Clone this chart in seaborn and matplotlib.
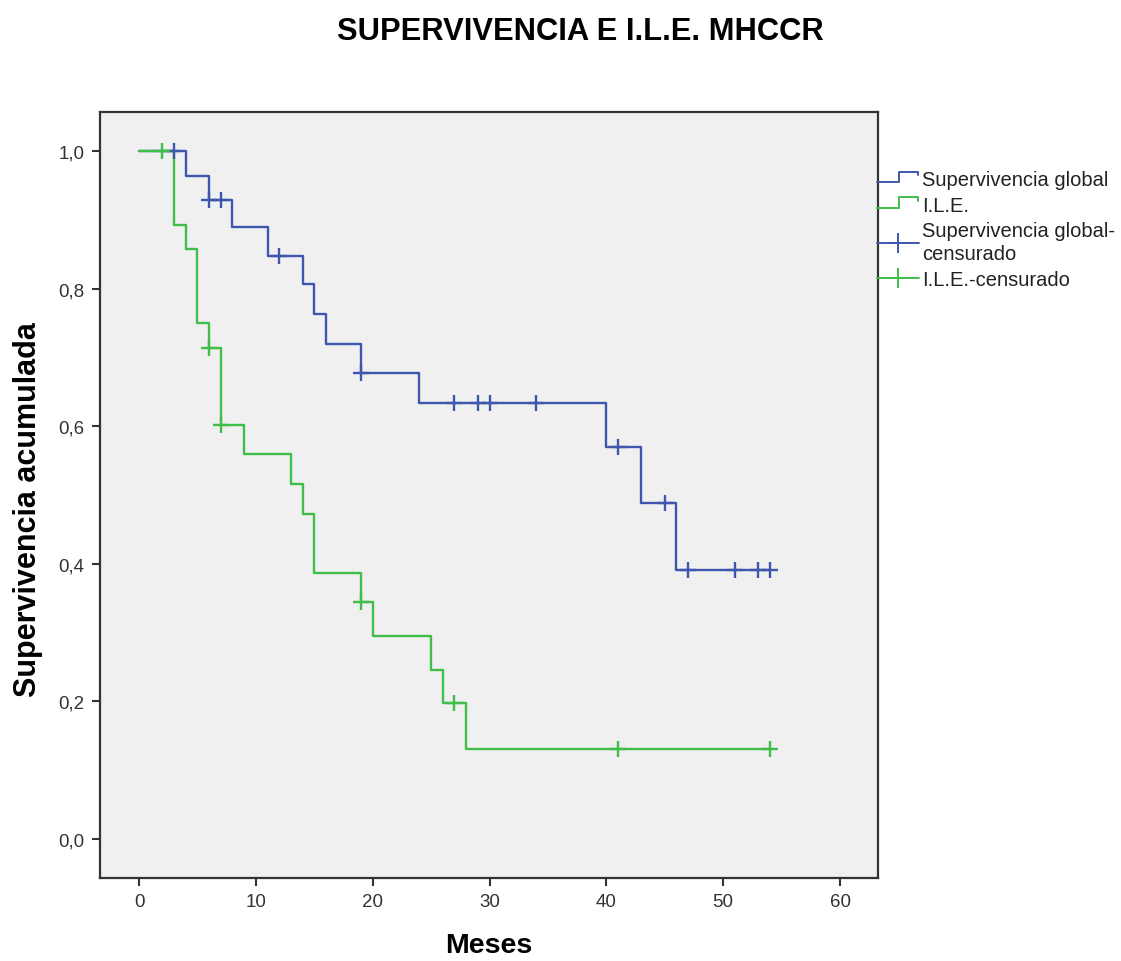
import numpy as np
import pandas as pd
import matplotlib
matplotlib.use("Agg")
import matplotlib.pyplot as plt
import seaborn as sns
from matplotlib.lines import Line2D
from matplotlib.legend_handler import HandlerBase

# ---- data ----
global_times = [0, 4, 6, 8, 11, 14, 15, 16, 19, 24, 40, 43, 46, 54]
global_surv = [1.0, 0.964, 0.929, 0.889, 0.847, 0.806, 0.763, 0.720, 0.678,
               0.633, 0.570, 0.488, 0.391, 0.391]
global_cens = [3, 6, 7, 12, 19, 27, 29, 30, 34, 41, 45, 47, 51, 53, 54]

ile_times = [0, 3, 4, 5, 6, 7, 9, 13, 14, 15, 19, 20, 25, 26, 28, 54]
ile_surv = [1.0, 0.893, 0.857, 0.750, 0.714, 0.602, 0.559, 0.516, 0.473,
            0.387, 0.344, 0.295, 0.246, 0.197, 0.131, 0.131]
ile_cens = [2, 6, 7, 19, 27, 41, 54]

x_ticks = [0, 10, 20, 30, 40, 50, 60]
y_ticks = [0.0, 0.2, 0.4, 0.6, 0.8, 1.0]
y_tick_labels = ["0,0", "0,2", "0,4", "0,6", "0,8", "1,0"]

title = "SUPERVIVENCIA E I.L.E. MHCCR"
xlabel = "Meses"
ylabel = "Supervivencia acumulada"
legend_labels = ["Supervivencia global", "I.L.E.",
                 "Supervivencia global-\ncensurado", "I.L.E.-censurado"]

BLUE = "#3E56AE"
GREEN = "#40BE4A"


def step_value(times, surv, t):
    idx = np.searchsorted(times, t, side="right") - 1
    return np.asarray(surv)[idx]


sns.set_theme(style="white")
plt.rcParams["font.family"] = ["Liberation Sans", "DejaVu Sans"]

W, H = 1121, 962
fig = plt.figure(figsize=(W / 100, H / 100), dpi=100)
ax = fig.add_axes([100 / W, 1 - 879 / H, 778 / W, 766 / H])
ax.set_facecolor("#F0F0F0")

df_g = pd.DataFrame({"t": global_times, "s": global_surv})
df_i = pd.DataFrame({"t": ile_times, "s": ile_surv})
sns.lineplot(data=df_g, x="t", y="s", ax=ax, color=BLUE, lw=1.7,
             drawstyle="steps-post", estimator=None, legend=False)
sns.lineplot(data=df_i, x="t", y="s", ax=ax, color=GREEN, lw=1.7,
             drawstyle="steps-post", estimator=None, legend=False)

cg = pd.DataFrame({"t": global_cens,
                   "s": step_value(global_times, global_surv, global_cens)})
ci = pd.DataFrame({"t": ile_cens,
                   "s": step_value(ile_times, ile_surv, ile_cens)})
sns.scatterplot(data=cg, x="t", y="s", ax=ax, marker="+", s=130,
                color=BLUE, linewidth=1.7, legend=False, zorder=3)
sns.scatterplot(data=ci, x="t", y="s", ax=ax, marker="+", s=130,
                color=GREEN, linewidth=1.7, legend=False, zorder=3)

ax.set_xlim(-3.34, 63.25)
ax.set_ylim(-0.0567, 1.0567)
ax.set_xticks(x_ticks)
ax.set_xticklabels([str(v) for v in x_ticks])
ax.set_yticks(y_ticks)
ax.set_yticklabels(y_tick_labels)
ax.tick_params(axis="both", which="major", direction="out", length=6,
               width=1.5, color="#333333", labelsize=13.5,
               labelcolor="#333333", bottom=True, left=True, pad=5)
for sp in ax.spines.values():
    sp.set_color("#333333")
    sp.set_linewidth(1.6)
ax.set_xlabel("")
ax.set_ylabel("")

fig.text(580 / W, 1 - 32 / H, title, ha="center", va="center",
         fontsize=22.2, fontweight="bold", color="black")
fig.text(489 / W, 1 - 946 / H, xlabel, ha="center", va="center",
         fontsize=20.5, fontweight="bold", color="black")
fig.text(28 / W, 1 - 510 / H, ylabel, ha="center", va="center",
         rotation=90, fontsize=22, fontweight="bold", color="black")


class StepHandler(HandlerBase):
    def create_artists(self, legend, orig_handle, xdescent, ydescent,
                       width, height, fontsize, trans):
        x0 = -xdescent
        y0 = -ydescent
        xs = [x0, x0 + 0.52 * width, x0 + 0.52 * width, x0 + 0.98 * width,
              x0 + 0.98 * width]
        ys = [y0 + 0.2 * height, y0 + 0.2 * height, y0 + 0.95 * height,
              y0 + 0.95 * height, y0 + 0.7 * height]
        ln = Line2D(xs, ys, color=orig_handle.get_color(), lw=1.4,
                    transform=trans)
        return [ln]


class StepProxy(Line2D):
    pass


h1 = StepProxy([], [], color=BLUE)
h2 = StepProxy([], [], color=GREEN)
h3 = Line2D([], [], color=BLUE, lw=1.4, marker="+", markersize=14,
            markeredgewidth=1.4)
h4 = Line2D([], [], color=GREEN, lw=1.4, marker="+", markersize=14,
            markeredgewidth=1.4)

leg = fig.legend([h1, h2, h3, h4], legend_labels,
                 handler_map={StepProxy: StepHandler()},
                 loc="upper left", bbox_to_anchor=(877 / W, 1 - 171 / H),
                 bbox_transform=fig.transFigure, frameon=False,
                 borderpad=0, borderaxespad=0, handlelength=2.1,
                 handletextpad=0.15, labelspacing=0.33, numpoints=1,
                 fontsize=14.5)
for t in leg.get_texts():
    t.set_color("#222222")
    t.set_linespacing(1.25)

fig.savefig("out.png", dpi=100)
